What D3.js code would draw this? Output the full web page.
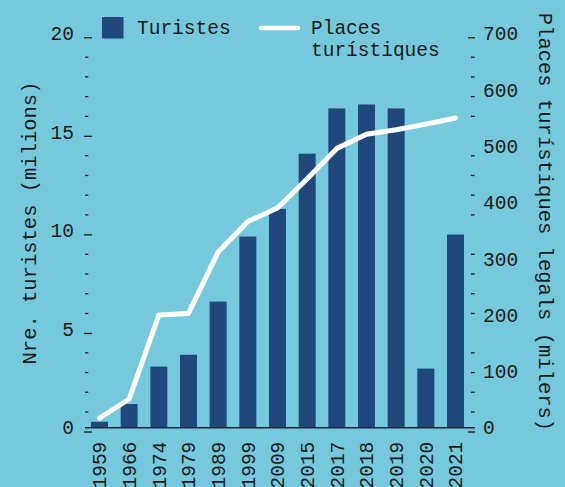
<!DOCTYPE html>
<html>
<head>
<meta charset="utf-8">
<script src="https://cdn.jsdelivr.net/npm/d3@7"></script>
<style>
  body { margin: 0; background: #76c9dc; }
  svg { display: block; }
  text { font-family: "Liberation Mono", "DejaVu Sans Mono", monospace; fill: #1a1a1a; }
</style>
</head>
<body>
<div id="chart-area"></div>
<script>
// Data
var years = ["1959", "1966", "1974", "1979", "1989", "1999", "2009", "2015", "2017", "2018", "2019", "2020", "2021"];
var turistes = [0.3, 1.2, 3.1, 3.7, 6.4, 9.7, 11.1, 13.9, 16.2, 16.4, 16.2, 3.0, 9.8];   // milions
var places = [17, 51, 200, 203, 312, 366, 390, 442, 496, 521, 529, 539, 550];          // milers
var leftTicks = [0, 5, 10, 15, 20];
var rightTicks = [0, 100, 200, 300, 400, 500, 600, 700];

var width = 565;
var height = 487;
var y0 = 427.7, yTop = 33.5;

var svg = d3.select("#chart-area")
    .append("svg")
    .attr("width", width)
    .attr("height", height);

svg.append("rect")
    .attr("width", width)
    .attr("height", height)
    .attr("fill", "#76c9dc");

// SCALES
var x = d3.scaleBand()
    .domain(years)
    .range([91, 464])
    .paddingInner(0.427)
    .paddingOuter(0);

var yL = d3.scaleLinear().domain([0, 20]).range([y0, yTop]);
var yR = d3.scaleLinear().domain([0, 700]).range([y0, yTop]);

// Bars
svg.selectAll("rect.bar")
    .data(turistes)
    .enter()
    .append("rect")
    .attr("class", "bar")
    .attr("x", (d, i) => x(years[i]))
    .attr("y", (d) => yL(d))
    .attr("width", x.bandwidth())
    .attr("height", (d) => y0 - yL(d))
    .attr("fill", "#20487a");

// baseline
svg.append("line")
    .attr("x1", 85).attr("x2", 475)
    .attr("y1", y0).attr("y2", y0)
    .attr("stroke", "#1a2a3a")
    .attr("stroke-width", 1.5);

// Line
var line = d3.line()
    .x((d, i) => x(years[i]) + x.bandwidth() / 2)
    .y((d) => yR(d));

svg.append("path")
    .datum(places)
    .attr("d", line)
    .attr("fill", "none")
    .attr("stroke", "white")
    .attr("stroke-width", 5)
    .attr("stroke-linejoin", "round")
    .attr("stroke-linecap", "round");

//---AXES
var minorVals = d3.range(0, 21).filter((v) => v % 5 != 0);

// left major
var leftAxis = svg.append("g")
    .attr("transform", "translate(92, 0)")
    .call(d3.axisLeft(yL).tickValues(leftTicks).tickSize(8).tickPadding(10));
leftAxis.select(".domain").remove();
leftAxis.selectAll("line").attr("y1", 3.8).attr("y2", 3.8).attr("stroke", "#1a1a1a").attr("stroke-width", 1.3);
leftAxis.selectAll("text").attr("font-size", "19.5px").attr("font-family", null);

// left minor
var leftMinor = svg.append("g")
    .attr("transform", "translate(92, 0)")
    .call(d3.axisLeft(yL).tickValues(minorVals).tickFormat(""));
leftMinor.select(".domain").remove();
leftMinor.selectAll("line").attr("x1", -7).attr("x2", -3.7).attr("y1", 3.5).attr("y2", 3.5)
    .attr("stroke", "#1a1a1a").attr("stroke-width", 1.3);

// right labels
var rightAxis = svg.append("g")
    .attr("transform", "translate(475, 0)")
    .call(d3.axisRight(yR).tickValues(rightTicks).tickSize(0).tickPadding(8));
rightAxis.select(".domain").remove();
rightAxis.selectAll("text").attr("font-size", "19.5px").attr("font-family", null);

// right ticks on the left grid
var rightMinor = svg.append("g")
    .attr("transform", "translate(475, 0)")
    .call(d3.axisRight(yL).tickValues(minorVals).tickFormat(""));
rightMinor.select(".domain").remove();
rightMinor.selectAll("line").attr("x1", -4).attr("x2", -0.3).attr("y1", 3.5).attr("y2", 3.5)
    .attr("stroke", "#1a1a1a").attr("stroke-width", 1.3);

var rightMajor = svg.append("g")
    .attr("transform", "translate(475, 0)")
    .call(d3.axisRight(yL).tickValues([0, 20]).tickFormat(""));
rightMajor.select(".domain").remove();
rightMajor.selectAll("line").attr("x1", -7).attr("x2", 0).attr("y1", 3.8).attr("y2", 3.8)
    .attr("stroke", "#1a1a1a").attr("stroke-width", 1.3);

// bottom labels
var bottomAxis = svg.append("g")
    .attr("transform", "translate(0, " + y0 + ")")
    .call(d3.axisBottom(x).tickSize(0));
bottomAxis.select(".domain").remove();
bottomAxis.selectAll("text")
    .attr("font-size", "19.5px")
    .attr("font-family", null)
    .attr("transform", "rotate(-90)")
    .attr("x", -14)
    .attr("y", 0)
    .attr("dy", "0.35em")
    .attr("text-anchor", "end");

//---TITLE LABELS
svg.append("text")
    .attr("transform", "translate(36, 223) rotate(-90)")
    .attr("text-anchor", "middle")
    .attr("font-size", "20.5px")
    .text("Nre. turistes (milions)");

svg.append("text")
    .attr("transform", "translate(539, 222) rotate(90)")
    .attr("text-anchor", "middle")
    .attr("font-size", "20.5px")
    .text("Places turístiques legals (milers)");

//---LEGEND
svg.append("rect")
    .attr("x", 102).attr("y", 17)
    .attr("width", 21.5).attr("height", 21.5)
    .attr("fill", "#20487a");
svg.append("text")
    .attr("x", 137).attr("y", 34)
    .attr("font-size", "19.5px")
    .text("Turistes");

svg.append("line")
    .attr("x1", 261).attr("x2", 298)
    .attr("y1", 28).attr("y2", 28)
    .attr("stroke", "white")
    .attr("stroke-width", 4.5)
    .attr("stroke-linecap", "round");
var leg2 = svg.append("text")
    .attr("x", 311)
    .attr("y", 34)
    .attr("font-size", "19.5px");
leg2.append("tspan").attr("x", 311).text("Places");
leg2.append("tspan").attr("x", 311).attr("dy", 22).text("turístiques");
</script>
</body>
</html>
